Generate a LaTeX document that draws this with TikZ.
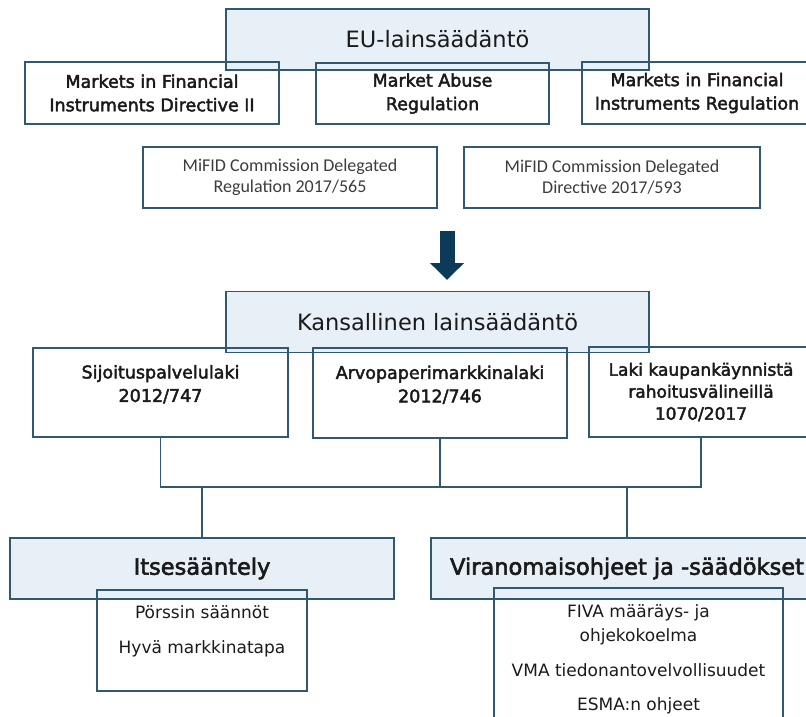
\documentclass[tikz,border=0pt]{standalone}
\usepackage{fontspec}
\setmainfont{DejaVu Sans}
\newfontfamily\labelfont[FakeBold=2.5]{DejaVu Sans}
\newfontfamily\calibrifont{Carlito}
\usetikzlibrary{arrows.meta}

\definecolor{frame}{HTML}{30586F}
\definecolor{headfill}{HTML}{E7EFF7}
\definecolor{arrowblue}{HTML}{0D3A58}
\definecolor{ink}{HTML}{1A1A1A}

\tikzset{
	headbox/.style={draw=frame, fill=headfill, line width=1.2pt, text=ink, font=\fontsize{22.5}{26}\selectfont},
	groupbox/.style={headbox, font=\labelfont\fontsize{22.5}{26}\selectfont},
	lawbox/.style={draw=frame, line width=1.2pt, align=center, text=ink, font=\labelfont\fontsize{17.5}{23.5}\selectfont},
	delbox/.style={draw=frame, line width=1.2pt, align=center, text=ink!85, font=\calibrifont\fontsize{18}{21}\selectfont},
	listbox/.style={draw=frame, line width=1.2pt},
	item/.style={anchor=base, inner sep=0pt, align=center, text=ink, font=\fontsize{17}{24}\selectfont},
	link/.style={draw=frame, line width=1.2pt},
	bigarrow/.style={draw=arrowblue, line width=15pt, -{Triangle[width=33pt,length=17pt]}}
}

\begin{document}
\begin{tikzpicture}[x=1pt, y=-1pt]
	\useasboundingbox (0,0) rectangle (806,717);

	% EU level
	\node[headbox, minimum width=423, minimum height=61] (eu) at (437.5,39.5) {EU-lainsäädäntö};
	\node[lawbox, minimum width=254, minimum height=62] (mifid) at (152,93) {Markets in Financial\\Instruments Directive II};
	\node[lawbox, minimum width=233, minimum height=61] (mar) at (432.5,93.5) {Market Abuse\\Regulation};
	\node[lawbox, minimum width=230, minimum height=62] (mifir) at (697,93) {Markets in Financial\\Instruments Regulation};
	\node[delbox, minimum width=294, minimum height=61] (delreg) at (290,177.5) {MiFID Commission Delegated\\Regulation 2017/565};
	\node[delbox, minimum width=296, minimum height=61] (deldir) at (612,177.5) {MiFID Commission Delegated\\Directive 2017/593};

	\coordinate (arrowtop) at (447,231);
	\coordinate (arrowtip) at (447,280);
	\draw[bigarrow] (arrowtop) -- (arrowtip);

	% national level
	\node[headbox, minimum width=423, minimum height=61] (kansa) at (437.5,322) {Kansallinen lainsäädäntö};
	\node[lawbox, minimum width=255, minimum height=89, text depth=18pt] (sijo) at (160.5,392.5) {Sijoituspalvelulaki\\2012/747};
	\node[lawbox, minimum width=254, minimum height=90, text depth=18pt] (arvo) at (440,393) {Arvopaperimarkkinalaki\\2012/746};
	\node[lawbox, minimum width=224, minimum height=90, font=\labelfont\fontsize{17}{22}\selectfont] (laki) at (701,392) {Laki kaupankäynnistä\\rahoitusvälineillä\\1070/2017};

	% lower level
	\coordinate (bus) at (0,487);
	\node[groupbox, minimum width=384, minimum height=61] (itse) at (202,568.5) {Itsesääntely};
	\node[groupbox, minimum width=392, minimum height=61] (viran) at (627,568.5) {Viranomaisohjeet ja -säädökset};

	\draw[link] (sijo.south) |- (laki.south |- bus) -- (laki.south);
	\draw[link] (arvo.south) -- (arvo.south |- bus);
	\draw[link] (itse.north |- bus) -- (itse.north);
	\draw[link] (viran.north |- bus) -- (viran.north);

	\node[listbox, minimum width=210, minimum height=101] (itselist) at (202,640.5) {};
	\node[item] (porssi) at (202,618) {Pörssin säännöt};
	\node[item] (hyva) at (202,653) {Hyvä markkinatapa};

	\node[listbox, minimum width=289, minimum height=140] (viranlist) at (638.5,658) {};
	\node[item] (fiva) at (638.5,641) {FIVA määräys- ja\\ohjekokoelma};
	\node[item] (vma) at (638.5,676) {VMA tiedonantovelvollisuudet};
	\node[item] (esma) at (638.5,710) {ESMA:n ohjeet};
\end{tikzpicture}
\end{document}
